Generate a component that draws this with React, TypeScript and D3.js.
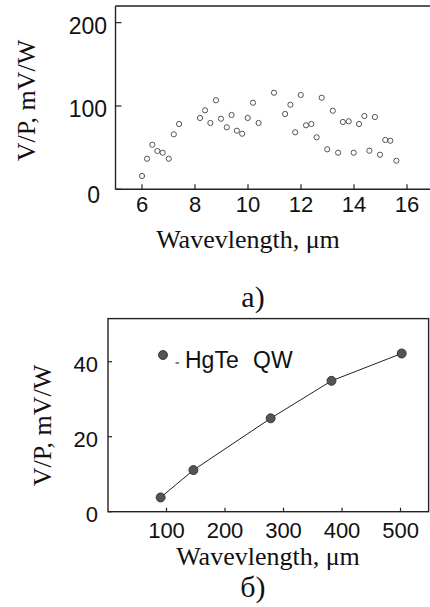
import React from "react";
import * as d3 from "d3";

// Panel a) scatter data
const waveA: number[] = [6.0, 6.19, 6.39, 6.58, 6.78, 7.01, 7.2, 7.4, 8.19, 8.38, 8.58, 8.79, 8.98, 9.2, 9.38, 9.58, 9.78, 9.99, 10.19, 10.4, 10.98, 11.4, 11.6, 11.78, 11.99, 12.19, 12.39, 12.59, 12.78, 12.99, 13.2, 13.4, 13.58, 13.8, 13.99, 14.19, 14.39, 14.58, 14.79, 14.98, 15.18, 15.37, 15.6];
const respA: number[] = [16, 36.7, 53.5, 46, 43.9, 36.7, 66, 78.4, 85.6, 94.8, 79.6, 106.8, 84.7, 74.4, 89.2, 70.3, 66.7, 85.6, 103.9, 79.6, 115.9, 90.4, 101.5, 68.4, 113.2, 76.8, 78.4, 62.4, 109.9, 48, 94.3, 43.9, 80.8, 81.6, 43.9, 78.4, 88, 46.3, 86.8, 41.5, 59.2, 58.3, 34.3];
const xTicksA: number[] = [6, 8, 10, 12, 14, 16];
const yTicksA: number[] = [0, 100, 200];

// Panel b) line data
const waveB: number[] = [90, 146, 278, 382, 502];
const respB: number[] = [3.8, 11.1, 24.9, 34.9, 42.2];
const xTicksB: number[] = [100, 200, 300, 400, 500];
const yTicksB: number[] = [0, 20, 40];

const SANS = "'Liberation Sans', Arial, sans-serif";
const SERIF = "'Liberation Serif', 'Times New Roman', serif";
const AX = "#222";

export default function App() {
  // Panel a scales
  const xA = d3.scaleLinear().domain([5, 17]).range([115.5, 433.5]);
  const yA = d3.scaleLinear().domain([0, 220]).range([189.3, 6]);
  // Panel b scales
  const xB = d3.scaleLinear().domain([0, 548]).range([108, 428.6]);
  const yB = d3.scaleLinear().domain([0, 51.5]).range([511.7, 318.6]);

  const lineB = d3
    .line<number>()
    .x((_, i) => xB(waveB[i]))
    .y((d) => yB(d));

  return (
    <svg
      width={430}
      height={607}
      style={{ position: "absolute", left: 0, top: 0, background: "#fff" }}
    >
      <rect x={0} y={0} width={430} height={607} fill="#fff" />

      {/* ===== Panel a ===== */}
      <g>
        <line x1={xA(5)} x2={xA(5)} y1={yA(220)} y2={yA(0)} stroke={AX} strokeWidth={1.4} />
        <line x1={xA(5)} x2={xA(17)} y1={yA(0)} y2={yA(0)} stroke={AX} strokeWidth={1.4} />
        <line x1={xA(5)} x2={xA(17)} y1={yA(220)} y2={yA(220)} stroke={AX} strokeWidth={1.4} />
        {xTicksA.map((t) => (
          <g key={"xa" + t}>
            <line x1={xA(t)} x2={xA(t)} y1={yA(0)} y2={yA(0) - 5} stroke={AX} strokeWidth={1.2} />
            <text x={xA(t)} y={212} textAnchor="middle" fontFamily={SANS} fontSize={22} fill="#111">
              {t}
            </text>
          </g>
        ))}
        {yTicksA.map((t) => (
          <g key={"ya" + t}>
            <line x1={xA(5)} x2={xA(5) + 6} y1={yA(t)} y2={yA(t)} stroke={AX} strokeWidth={1.2} />
            <text
              x={t === 0 ? 100 : 107}
              y={yA(t) + (t === 0 ? 6 : 3)}
              textAnchor="end"
              dominantBaseline="central"
              fontFamily={SANS}
              fontSize={23}
              fill="#111"
            >
              {t}
            </text>
          </g>
        ))}
        {respA.map((v, i) => (
          <circle key={"pa" + i} cx={xA(waveA[i])} cy={yA(v)} r={2.6} fill="none" stroke="#555" strokeWidth={1} />
        ))}
        <text
          transform="translate(35,100.5) rotate(-90)"
          textAnchor="middle"
          fontFamily={SERIF}
          fontSize={26}
          fill="#111"
        >
          V/P, mV/W
        </text>
        <text x={248} y={248} textAnchor="middle" fontFamily={SERIF} fontSize={26} fill="#111">
          Wavevlength, μm
        </text>
        <text x={253} y={307} textAnchor="middle" fontFamily={SERIF} fontSize={30} fill="#111">
          a)
        </text>
      </g>

      {/* ===== Panel b ===== */}
      <g>
        <rect
          x={xB(0)}
          y={yB(51.5)}
          width={xB(548) - xB(0)}
          height={yB(0) - yB(51.5)}
          fill="none"
          stroke={AX}
          strokeWidth={1.4}
        />
        {xTicksB.map((t) => (
          <g key={"xb" + t}>
            <line x1={xB(t)} x2={xB(t)} y1={yB(0)} y2={yB(0) - 4} stroke={AX} strokeWidth={1.2} />
            <text x={xB(t)} y={538} textAnchor="middle" fontFamily={SANS} fontSize={22} fill="#111">
              {t}
            </text>
          </g>
        ))}
        {yTicksB.map((t) => (
          <g key={"yb" + t}>
            <line x1={xB(0)} x2={xB(0) + 4} y1={yB(t)} y2={yB(t)} stroke={AX} strokeWidth={1.2} />
            <text
              x={98}
              y={yB(t) + 3}
              textAnchor="end"
              dominantBaseline="central"
              fontFamily={SANS}
              fontSize={22}
              fill="#111"
            >
              {t}
            </text>
          </g>
        ))}
        <path d={lineB(respB) || ""} fill="none" stroke="#222" strokeWidth={1} />
        {respB.map((v, i) => (
          <circle key={"pb" + i} cx={xB(waveB[i])} cy={yB(v)} r={4.5} fill="#555" stroke="#222" strokeWidth={0.8} />
        ))}
        {/* legend */}
        <circle cx={163} cy={355} r={4.5} fill="#555" stroke="#222" strokeWidth={0.8} />
        <line x1={175.5} x2={179} y1={363} y2={363} stroke="#333" strokeWidth={1.2} />
        <text x={185} y={368} fontFamily={SANS} fontSize={23} fill="#111" wordSpacing={8}>
          HgTe QW
        </text>
        <text
          transform="translate(51,425.5) rotate(-90)"
          textAnchor="middle"
          fontFamily={SERIF}
          fontSize={26}
          fill="#111"
        >
          V/P, mV/W
        </text>
        <text x={268} y={565} textAnchor="middle" fontFamily={SERIF} fontSize={26} fill="#111">
          Wavevlength, μm
        </text>
        <text x={253} y={597} textAnchor="middle" fontFamily={SERIF} fontSize={30} fill="#111">
          б)
        </text>
      </g>
    </svg>
  );
}
